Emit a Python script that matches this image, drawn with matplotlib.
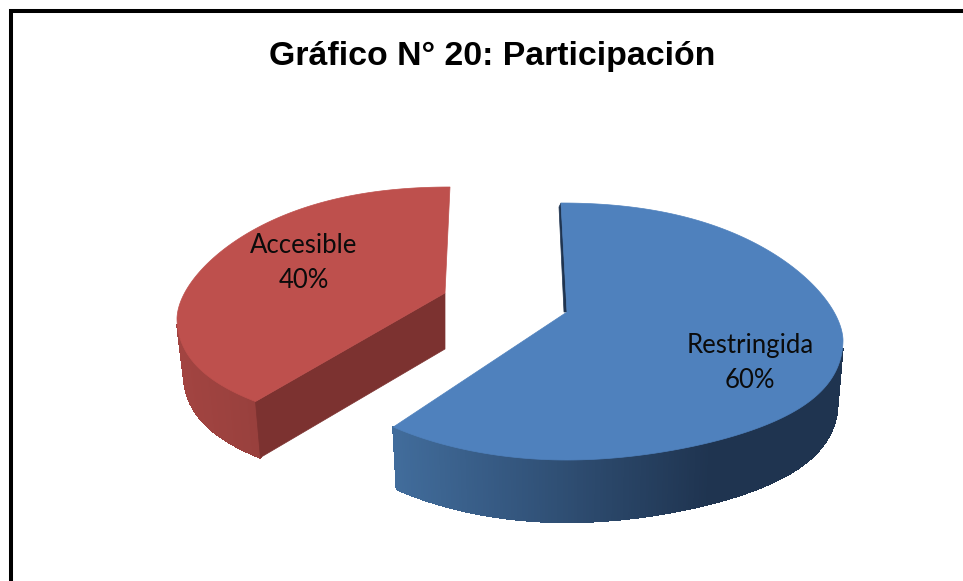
"""Grafico 20: torta 3D separada, dibujada a mano porque matplotlib no trae pie 3D."""
import numpy as np
import matplotlib; matplotlib.use("Agg")
import matplotlib.pyplot as plt
from matplotlib.patches import Polygon
from matplotlib.colors import to_rgb

TITLE = "Gráfico N° 20: Participación"
labels = ["Restringida", "Accesible"]
values = [60, 40]

W, H = 963, 581
# geometria de cada porcion en pixeles; k/pivot deforman el angulo por la perspectiva
GEOM = [dict(cx=567, cy=312, a=276, b_top=109, b_bot=148, depth=62, skew_r=0.10, skew_l=0.0,
             lean=-6, k=219 / 216, pivot=0, shrink=0.98, floor=522),
        dict(cx=445, cy=293, a=268, b_top=106, b_bot=141, depth=56, skew_r=0.0, skew_l=0.093,
             lean=5, k=0.9375, pivot=360, shrink=0.974, floor=581)]
TOP = ["#4F81BD", "#BE504D"]
WALL = [[(0.0, "#416C9B"), (0.70, "#1F3450"), (1.0, "#1F3450")],
        [(0.0, "#A24441"), (1.0, "#98403D")]]
CUT = ["#1F3450", "#7C3230"]

def rim(g, deg, scale=1.0):
    th = np.radians(g["pivot"] + (deg - g["pivot"]) * g["k"])
    c, s = np.cos(th), np.sin(th)
    b = np.where(c > 0, g["b_top"], g["b_bot"])
    x = g["cx"] + scale * g["a"] * s + g["lean"] * np.clip(c, 0, None)
    sk = np.where(s > 0, g["skew_r"], g["skew_l"])
    y = g["cy"] - b * c + sk * g["a"] * np.abs(s) ** 3
    return x, y

def wall_color(stops, t):
    pos = [s[0] for s in stops]
    rgb = np.array([to_rgb(s[1]) for s in stops])
    return [np.interp(t, pos, rgb[:, i]) for i in range(3)]

def draw_slice(ax, g, start, end, top, stops, z):
    deg = np.linspace(start, end, 360)
    x, y = rim(g, deg)
    xb, yb = rim(g, deg, g["shrink"])
    yb = np.minimum(yb + g["depth"], g["floor"])
    # pared exterior: solo la parte que mira hacia abajo
    th = np.radians(g["pivot"] + (deg - g["pivot"]) * g["k"])
    vis = np.where(np.cos(th) < -0.05)[0]
    for i in vis[:-1]:
        t = (min(x[i], x[i + 1]) - x[vis].min()) / (x[vis].max() - x[vis].min())
        col = wall_color(stops, t)
        quad = [(x[i], y[i]), (x[i + 1], y[i + 1]), (xb[i + 1], yb[i + 1]), (xb[i], yb[i])]
        ax.add_patch(Polygon(quad, fc=col, ec=col, lw=1.0, antialiased=False, zorder=z))
    ax.add_patch(Polygon(np.c_[np.r_[g["cx"], x], np.r_[g["cy"], y]], fc=top, ec=top, lw=0.5, zorder=z + 2))
    return x, y, xb, yb

fig = plt.figure(figsize=(W / 100, H / 100), dpi=100)
ax = fig.add_axes([0, 0, 1, 1])
ax.set_xlim(0, W); ax.set_ylim(H, 0); ax.axis("off")

# marco negro: solo arriba e izquierda
ax.plot([11, 11, W], [H, 11, 11], color="black", lw=2.9, solid_joinstyle="miter", zorder=1)

fracs = np.array(values) / sum(values) * 360

g = GEOM[0]
x, y, xb, yb = draw_slice(ax, g, 0, fracs[0], TOP[0], WALL[0], 3)
# cara interior oscura junto al borde superior
ax.add_patch(Polygon([(g["cx"], g["cy"]), (x[0], y[0]), (x[0] - 2, y[0] + 4), (g["cx"] - 3, g["cy"])],
                     fc=CUT[0], ec=CUT[0], lw=0.5, zorder=2))

g = GEOM[1]
x, y, xb, yb = draw_slice(ax, g, fracs[0], 360, TOP[1], WALL[1], 3)
# cara de corte del rojo, de la punta al centro
ax.add_patch(Polygon([(x[0], y[0]), (g["cx"], g["cy"]), (g["cx"], g["cy"] + g["depth"]), (xb[0], yb[0])],
                     fc=CUT[1], ec=CUT[1], lw=0.5, zorder=4))

ax.text(492, 57, TITLE, ha="center", va="center", fontsize=24.4, fontweight="bold",
        family="Liberation Sans", color="black", zorder=6)
ax.text(750, 363, f"{labels[0]}\n{values[0]}%", ha="center", va="center", fontsize=18.5, family="Lato",
        linespacing=1.55, color="#0b0b0b", zorder=6)
ax.text(304, 263, f"{labels[1]}\n{values[1]}%", ha="center", va="center", fontsize=18.5, family="Lato",
        linespacing=1.5, color="#0b0b0b", zorder=6)

fig.savefig("out.png", dpi=100)
